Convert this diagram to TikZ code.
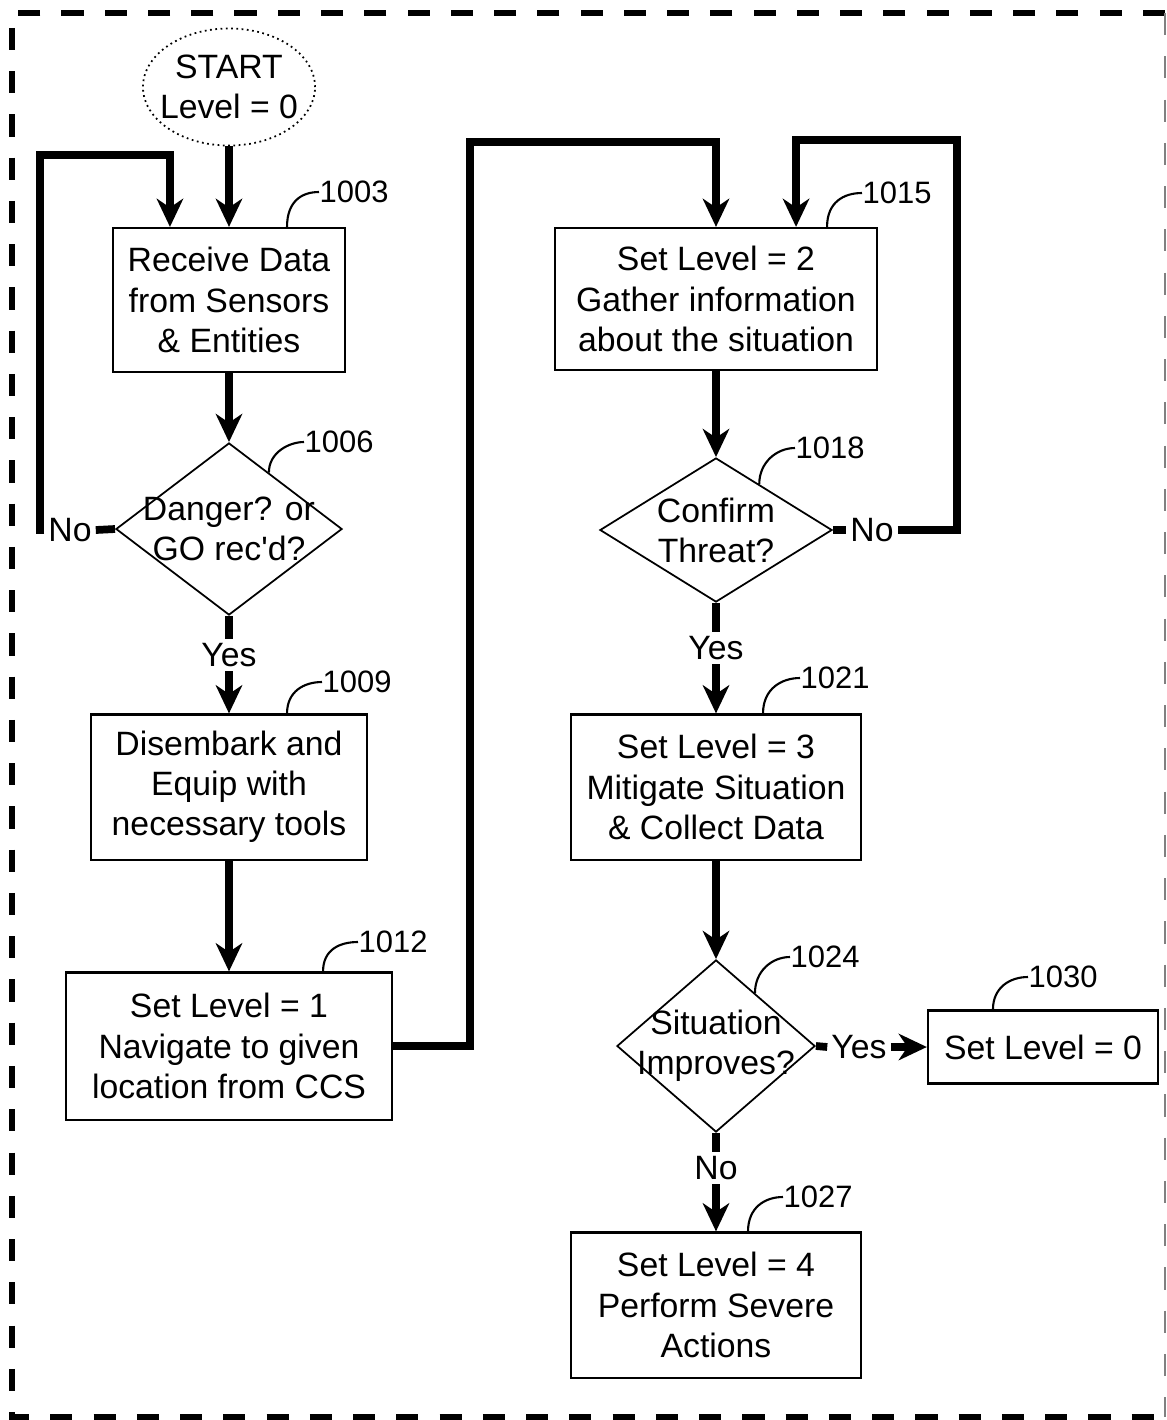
\documentclass[tikz,border=0pt]{standalone}
\usepackage{fontspec}
\setmainfont{Liberation Sans}
\usetikzlibrary{shapes.geometric,arrows.meta,calc}

\begin{document}
\begin{tikzpicture}[x=0.01cm,y=-0.01cm,
    txt/.style={font=\fontsize{9.6}{11.4}\selectfont,align=center,inner sep=1pt},
    box/.style={txt,draw,line width=0.6pt},
    dia/.style={draw,diamond,line width=0.5pt,inner sep=0pt},
    num/.style={font=\fontsize{8.8}{10}\selectfont,anchor=west,inner sep=0pt},
    flow/.style={line width=2.2pt,-{Stealth[length=8pt,width=7.5pt,inset=2.5pt]}},
    line/.style={line width=2.2pt},
    lead/.style={line width=0.6pt},
    border/.style={line width=1.5pt,dash pattern=on 6.3pt off 6pt}]
  \useasboundingbox (0,0) rectangle (1167,1420);

  % frame
  \draw[border] (1165,13) -- (12,13) -- (12,1417) -- (1165,1417);
  \draw[line width=0.4pt,gray,dash pattern=on 6.3pt off 6pt] (1165,13) -- (1165,1417);

  % left column
  \node[draw,ellipse,minimum width=1.72cm,minimum height=1.17cm,line width=0.5pt,densely dotted] (start) at (229,87) {};
  \node[txt] (tstart) at (start) {START\\Level = 0};

  \node[box,minimum width=2.32cm,minimum height=1.44cm] (b1003) at (229,300) {Receive Data\\from Sensors\\\& Entities};

  \node[dia,minimum width=2.26cm,minimum height=1.72cm] (d1006) at (229,529) {};
  \node[txt] (t1006) at (d1006) {Danger? or\\GO rec\textquotesingle d?};
  \node[txt] (noA) at (70,530) {No};
  \node[txt] (yesA) at (229,655) {Yes};

  \node[box,minimum width=2.76cm,minimum height=1.45cm] (b1009) at (229,787) {Disembark and\\Equip with\\necessary tools};

  \node[box,minimum width=3.25cm,minimum height=1.47cm] (b1012) at (229,1046) {Set Level = 1\\Navigate to given\\location from CCS};

  % right column
  \node[box,minimum width=3.22cm,minimum height=1.42cm] (b1015) at (716,299) {Set Level = 2\\Gather information\\about the situation};

  \node[dia,minimum width=2.32cm,minimum height=1.44cm] (d1018) at (716,530) {};
  \node[txt] (t1018) at (d1018) {Confirm\\Threat?};
  \node[txt] (noB) at (872,530) {No};
  \node[txt] (yesB) at (716,648) {Yes};

  \node[box,minimum width=2.89cm,minimum height=1.45cm] (b1021) at (716,787) {Set Level = 3\\Mitigate Situation\\\& Collect Data};

  \node[dia,minimum width=1.98cm,minimum height=1.72cm] (d1024) at (716,1046) {};
  \node[txt] (t1024) at (d1024) {Situation\\Improves?};
  \node[txt] (yesC) at (859,1047) {Yes};
  \node[txt] (noC) at (716,1168) {No};

  \node[box,minimum width=2.30cm,minimum height=0.73cm] (b1030) at (1043,1047) {Set Level = 0};

  \node[box,minimum width=2.89cm,minimum height=1.45cm] (b1027) at (716,1305) {Set Level = 4\\Perform Severe\\Actions};

  % connectors
  \draw[flow] (start.south) -- (b1003.north);
  \draw[flow] (b1003.south) -- (d1006.north);
  \draw[line] (d1006.west) -- (noA.east);
  \draw[flow] (noA.west) -| (40,155) -| ([xshift=-0.59cm]b1003.north);
  \draw[line] (d1006.south) -- (yesA.north);
  \draw[flow] (yesA.south) -- (b1009.north);
  \draw[flow] (b1009.south) -- (b1012.north);
  \draw[flow] (b1012.east) -| (470,142) -| (b1015.north);

  \draw[flow] (b1015.south) -- (d1018.north);
  \draw[line] (d1018.east) -- (noB.west);
  \draw[flow] (noB.east) -| (957,140) -| ([xshift=0.8cm]b1015.north);
  \draw[line] (d1018.south) -- (yesB.north);
  \draw[flow] (yesB.south) -- (b1021.north);
  \draw[flow] (b1021.south) -- (d1024.north);
  \draw[line] (d1024.east) -- (yesC.west);
  \draw[flow] (yesC.east) -- (b1030.west);
  \draw[line] (d1024.south) -- (noC.north);
  \draw[flow] (noC.south) -- (b1027.north);

  % reference numbers
  \node[num] (n1003) at (319,192) {1003};
  \node[num] (n1006) at (304,442) {1006};
  \node[num] (n1009) at (322,682) {1009};
  \node[num] (n1012) at (358,942) {1012};
  \node[num] (n1015) at (862,193) {1015};
  \node[num] (n1018) at (795,448) {1018};
  \node[num] (n1021) at (800,678) {1021};
  \node[num] (n1024) at (790,957) {1024};
  \node[num] (n1027) at (783,1197) {1027};
  \node[num] (n1030) at (1028,977) {1030};

  \draw[lead] ([xshift=0.58cm]b1003.north) .. controls +(0,-25) and +(-18,0) .. (n1003.west);
  \draw[lead] ($(d1006.north)!0.35!(d1006.east)$) .. controls +(0,-20) and +(-15,0) .. (n1006.west);
  \draw[lead] ([xshift=0.58cm]b1009.north) .. controls +(0,-22) and +(-18,0) .. (n1009.west);
  \draw[lead] ([xshift=0.94cm]b1012.north) .. controls +(0,-22) and +(-18,0) .. (n1012.west);
  \draw[lead] ([xshift=1.11cm]b1015.north) .. controls +(0,-25) and +(-18,0) .. (n1015.west);
  \draw[lead] ($(d1018.north)!0.37!(d1018.east)$) .. controls +(0,-22) and +(-18,0) .. (n1018.west);
  \draw[lead] ([xshift=0.47cm]b1021.north) .. controls +(0,-25) and +(-18,0) .. (n1021.west);
  \draw[lead] ($(d1024.north)!0.39!(d1024.east)$) .. controls +(0,-22) and +(-18,0) .. (n1024.west);
  \draw[lead] ([xshift=0.32cm]b1027.north) .. controls +(0,-24) and +(-18,0) .. (n1027.west);
  \draw[lead] ([xshift=-0.50cm]b1030.north) .. controls +(0,-22) and +(-18,0) .. (n1030.west);
\end{tikzpicture}
\end{document}
